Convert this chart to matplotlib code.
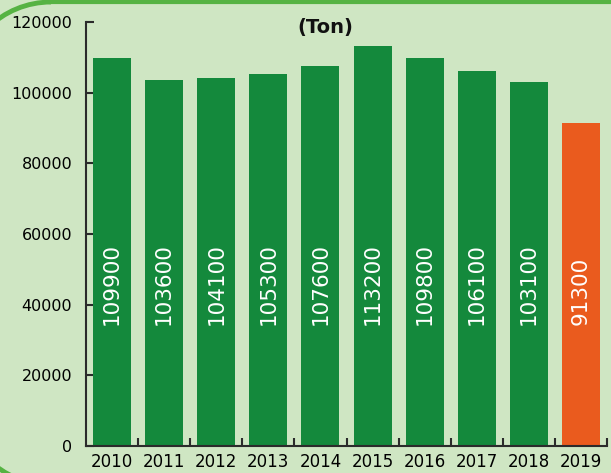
import matplotlib
matplotlib.use("Agg")
import matplotlib.pyplot as plt
from matplotlib.patches import Arc
from matplotlib.lines import Line2D
from matplotlib.transforms import IdentityTransform
import numpy as np

# data
years = ['2010', '2011', '2012', '2013', '2014', '2015', '2016', '2017', '2018', '2019']
tons = [109900, 103600, 104100, 105300, 107600, 113200, 109800, 106100, 103100, 91300]
yticks = [0, 20000, 40000, 60000, 80000, 100000, 120000]

bg = '#cfe6c3'
green = '#14893c'
orange = '#ea5b1e'
frame_col = '#56b343'

fig = plt.figure(figsize=(6.11, 4.73), dpi=100, facecolor=bg)
ax = fig.add_axes([0.1408, 0.0571, 0.8527, 0.8964])
ax.set_facecolor(bg)

# green frame pieces (pixel coordinates), mostly outside the picture
pix = IdentityTransform()
fig.patches.append(Arc((51, 381), 180, 180, theta1=90, theta2=180, transform=pix,
                       color=frame_col, linewidth=3.5))
fig.patches.append(Arc((51, 78), 180, 180, theta1=180, theta2=270, transform=pix,
                       color=frame_col, linewidth=3.5))
fig.lines.append(Line2D([51, 620], [471, 471], transform=pix, color=frame_col,
                        linewidth=3))

x = np.arange(len(years))
colors = [green] * (len(years) - 1) + [orange]
ax.bar(x, tons, width=0.73, color=colors, zorder=2)

for xi, v in zip(x, tons):
    ax.text(xi, 34300, f'{v}', rotation=90, rotation_mode='anchor',
            ha='left', va='center', color='white', fontsize=15.5, zorder=3)

ax.set_xlim(-0.5, len(years) - 0.5)
ax.set_ylim(0, 120000)
ax.set_yticks(yticks)
ax.set_xticks(x)
ax.set_xticklabels(years)
ax.set_xticks(np.arange(len(years)) + 0.5, minor=True)

for s in ['top', 'right']:
    ax.spines[s].set_visible(False)
for s in ['left', 'bottom']:
    ax.spines[s].set_color('#2b2b2b')
    ax.spines[s].set_linewidth(1.5)

ax.tick_params(axis='y', direction='in', length=6, width=1.5, color='#2b2b2b',
               labelsize=11.5, pad=10)
ax.tick_params(axis='x', which='major', length=0, labelsize=12, pad=5)
ax.tick_params(axis='x', which='minor', direction='in', length=6, width=1.5,
               color='#2b2b2b')

fig.text(0.532, 0.941, '(Ton)', ha='center', va='center', fontsize=14,
         fontweight='bold', color='#111111')

fig.savefig('out.png', dpi=100, facecolor=bg)
